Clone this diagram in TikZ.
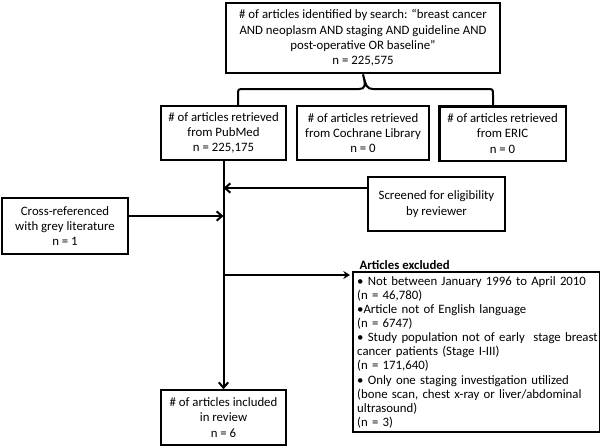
\documentclass[tikz,border=0pt]{standalone}
\usepackage{fontspec}
\setmainfont{Carlito}
\usepackage{tikz}
\usetikzlibrary{calc}
\usetikzlibrary{arrows.meta}

\begin{document}
\begin{tikzpicture}[x=0.75pt, y=-0.75pt,
        every node/.style = {font=\fontsize{9.6}{11.5}\selectfont},
        box/.style = {draw, line width=1.4pt, align=center, inner sep=2pt},
        thickbox/.style = {box, line width=2pt},
        barb/.style = {line width=1.5pt, -{Straight Barb[length=4pt,width=7pt]}}]
        \useasboundingbox (0,0) rectangle (600,447);
        \node[thickbox, minimum width=205.5pt, minimum height=52.5pt] (search) at (363,38)
            {\# of articles identified by search: “breast cancer\\AND neoplasm AND staging AND guideline AND\\post-operative OR baseline”\\n = 225,575};
        \node[box, minimum width=93.75pt, minimum height=40.5pt] (pubmed) at (223.5,133)
            {\# of articles retrieved\\from PubMed\\n = 225,175};
        \node[box, minimum width=99pt, minimum height=40.5pt] (cochrane) at (363,133)
            {\# of articles retrieved\\from Cochrane Library\\n = 0};
        \node[thickbox, minimum width=95pt, minimum height=41pt] (eric) at (502.5,133.5)
            {\# of articles retrieved\\from ERIC\\n = 0};
        \node[box, line width=1.1pt, minimum width=103pt, minimum height=40.5pt] (screen) at (436.5,204)
            {Screened for eligibility\\by reviewer};
        \node[box, line width=1.1pt, minimum width=94.5pt, minimum height=42pt] (cross) at (65,226)
            {Cross-referenced\\with grey literature\\n = 1};
        \node[box, minimum width=94pt, minimum height=41pt] (incl) at (223.5,417.5)
            {\# of articles included\\in review\\n = 6};
        \node[draw, line width=1.8pt, anchor=north west, text width=179pt, minimum height=120pt,
            inner xsep=3pt, inner ysep=1.5pt, align=left, font=\fontsize{9.6}{10.6}\selectfont] (excl) at (352,271)
            {• Not between January 1996 to April 2010\\(n = 46,780)\\•Article not of English language\\(n = 6747)\\\mbox{• Study population not of early\ \ stage breast}\\cancer patients (Stage I-III)\\(n = 171,640)\\• Only one staging investigation utilized\\\mbox{(bone scan, chest x-ray or liver/abdominal}\\ultrasound)\\(n = 3)};
        \node[anchor=south west, inner sep=1pt, font=\fontsize{9.6}{11.5}\selectfont\bfseries] (excltitle) at ([xshift=4.5pt]excl.north west) {Articles excluded};
        \coordinate (braceL) at (238,106);
        \coordinate (braceR) at (493,106);
        \draw[line width=1.5pt] (braceL) -- (238,95) .. controls (238,89) .. (244,89) -- (359,89)
            .. controls (365,89) and (366,86) .. (search.south) .. controls (366,86) and (367,89) .. (373,89)
            -- (487,89) .. controls (493,89) .. (493,95) -- (braceR);
        \draw[line width=1.5pt, -{Straight Barb[length=4pt,width=7pt]}] (pubmed.south) -- (incl.north);
        \draw[barb] ([yshift=12pt]screen.west) -- ([yshift=12pt]screen.west -| pubmed.south);
        \draw[barb] ([yshift=7.5pt]cross.east) -- ([yshift=7.5pt]cross.east -| pubmed.south);
        \draw[line width=1.5pt, -{Stealth[length=5pt,width=6pt]}, shorten >=1.5pt]
            ([yshift=-3pt]excl.north west -| pubmed.south) -- ([yshift=-3pt]excl.north west);
\end{tikzpicture}
\end{document}
